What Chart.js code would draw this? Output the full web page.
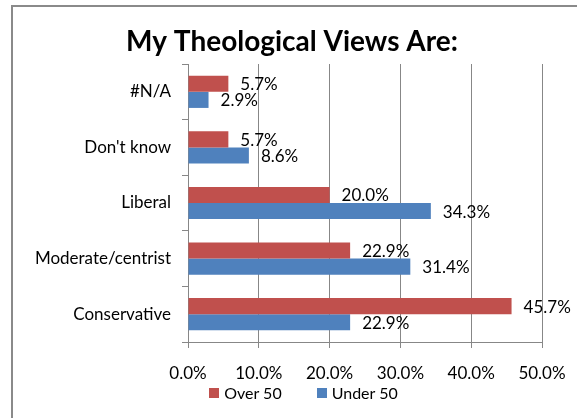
<!DOCTYPE html>
<html>
<head>
<meta charset="utf-8">
<script src="https://cdn.jsdelivr.net/npm/chart.js@4.4.1/dist/chart.umd.min.js"></script>
<style>
  html, body { margin: 0; padding: 0; background: #fff; }
  #wrap { position: relative; width: 577px; height: 418px; }
  #legend {
    position: absolute; left: 0; top: 383px; width: 577px; box-sizing: border-box;
    padding-left: 30px; display: flex; justify-content: center; gap: 35px;
    font: 16px Lato, Carlito, Calibri, sans-serif; color: #000;
  }
  #legend .item { display: flex; align-items: center; gap: 5px; line-height: 20px; }
  #legend .box { width: 10px; height: 10px; }
</style>
</head>
<body>
<div id="wrap">
  <canvas id="viewsChart" width="577" height="418"></canvas>
  <div id="legend"></div>
</div>
<script>
// Chart data
const categories = ['#N/A', "Don't know", 'Liberal', 'Moderate/centrist', 'Conservative'];
const over50 = [5.7, 5.7, 20.0, 22.9, 45.7];
const under50 = [2.9, 8.6, 34.3, 31.4, 22.9];
const seriesNames = ['Over 50', 'Under 50'];
const chartTitle = 'My Theological Views Are:';

const FONT = 'Lato, Carlito, Calibri, sans-serif';
const GRID = '#878787';

// frame round the chart + the title text
const framePlugin = {
  id: 'frame',
  beforeDraw(chart) {
    const c = chart.ctx;
    c.save();
    c.strokeStyle = '#8a8a8a';
    c.lineWidth = 2;
    c.strokeRect(12, 6, 700, 600);
    c.fillStyle = '#000';
    c.font = 'bold 28px ' + FONT;
    c.textAlign = 'center';
    c.textBaseline = 'alphabetic';
    c.fillText(chartTitle, 292, 51);
    c.restore();
  }
};

// value labels right of each bar
const valueLabels = {
  id: 'valueLabels',
  afterDatasetsDraw(chart) {
    const c = chart.ctx;
    c.save();
    c.font = '17px ' + FONT;
    c.fillStyle = '#000';
    c.textAlign = 'left';
    c.textBaseline = 'middle';
    chart.data.datasets.forEach((ds, i) => {
      chart.getDatasetMeta(i).data.forEach((bar, j) => {
        c.fillText(ds.data[j].toFixed(1) + '%', bar.x + 12, bar.y + 1);
      });
    });
    c.restore();
  }
};

// html legend built from the chart's own legend items
const htmlLegend = {
  id: 'htmlLegend',
  afterUpdate(chart) {
    const box = document.getElementById('legend');
    box.innerHTML = '';
    chart.options.plugins.legend.labels.generateLabels(chart).forEach(item => {
      const el = document.createElement('div');
      el.className = 'item';
      const sw = document.createElement('span');
      sw.className = 'box';
      sw.style.background = item.fillStyle;
      const txt = document.createElement('span');
      txt.textContent = item.text;
      el.appendChild(sw);
      el.appendChild(txt);
      box.appendChild(el);
    });
  }
};

const ctx = document.getElementById('viewsChart').getContext('2d');
new Chart(ctx, {
  type: 'bar',
  data: {
    labels: categories,
    datasets: [
      { label: seriesNames[0], data: over50, backgroundColor: '#C0504D' },
      { label: seriesNames[1], data: under50, backgroundColor: '#4F81BD' }
    ]
  },
  options: {
    indexAxis: 'y',
    responsive: false,
    animation: false,
    datasets: { bar: { categoryPercentage: 0.58, barPercentage: 1.0 } },
    layout: { padding: { left: 30, right: 0, top: 64, bottom: 0 } },
    scales: {
      x: {
        min: 0, max: 50,
        ticks: {
          stepSize: 10,
          padding: 15,
          color: '#000',
          font: { family: FONT, size: 17 },
          callback: v => v.toFixed(1) + '%'
        },
        grid: { color: GRID, tickLength: 6, tickColor: GRID },
        border: { color: GRID },
        afterFit(scale) { scale.height = 76; scale.paddingRight = 35; }
      },
      y: {
        ticks: { padding: 11, color: '#000', font: { family: FONT, size: 17 } },
        grid: { offset: true, drawOnChartArea: false, tickLength: 6, color: GRID },
        border: { color: GRID },
        afterFit(scale) { scale.width = 158; }
      }
    },
    plugins: {
      legend: { display: false },
      tooltip: { enabled: false }
    }
  },
  plugins: [framePlugin, valueLabels, htmlLegend]
});
</script>
</body>
</html>
